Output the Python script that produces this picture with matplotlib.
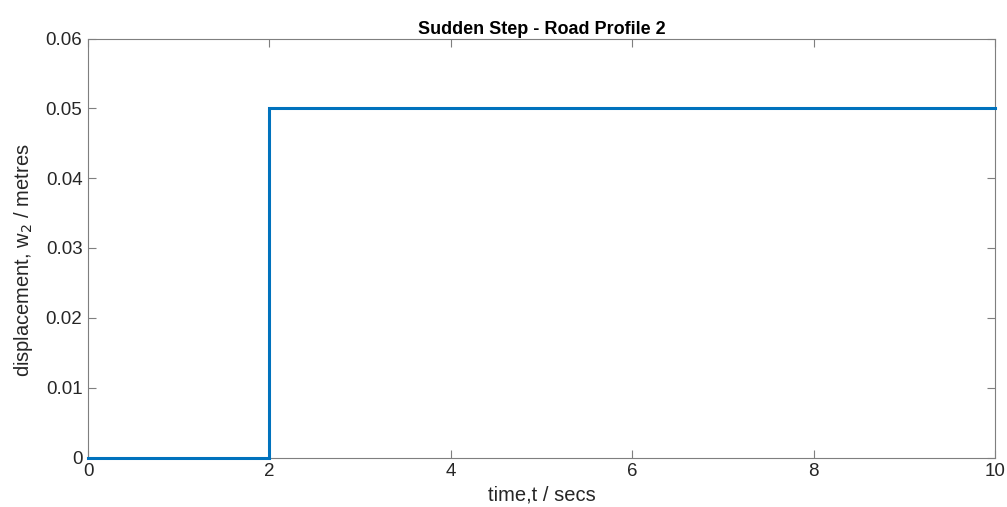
import matplotlib
matplotlib.use("Agg")
import matplotlib.pyplot as plt

t = [0, 2, 2, 10]
w2 = [0, 0, 0.05, 0.05]
xticks = [0, 2, 4, 6, 8, 10]
yticks = [0, 0.01, 0.02, 0.03, 0.04, 0.05, 0.06]
ytick_labels = ["0", "0.01", "0.02", "0.03", "0.04", "0.05", "0.06"]

plt.rcParams['font.family'] = ['Liberation Sans', 'DejaVu Sans']

fig = plt.figure(figsize=(10.07, 5.07), dpi=100)
ax = fig.add_axes([88/1007, 1 - 457.5/507, (995-88)/1007, (457.5-38.5)/507])
ax.plot(t, w2, color='#0072BD', linewidth=2.2, solid_joinstyle='miter',
        clip_on=False, zorder=5)
ax.set_xlim(0, 10)
ax.set_ylim(0, 0.06)
ax.set_xticks(xticks)
ax.set_xticklabels([str(x) for x in xticks])
ax.set_yticks(yticks)
ax.set_yticklabels(ytick_labels)
ax.tick_params(direction='in', top=True, right=True, length=6, width=0.8,
               color='#7f7f7f', labelsize=13.5, labelcolor='#262626', pad=4)
for s in ax.spines.values():
    s.set_color('#7f7f7f')
    s.set_linewidth(0.8)
ax.set_title('Sudden Step - Road Profile 2', fontsize=13, fontweight='bold', pad=3, color='black')
ax.set_xlabel('time,t / secs', fontsize=14.5, color='#262626', labelpad=4)
ax.set_ylabel('displacement, w$_2$ / metres', fontsize=14.5, color='#262626')
ax.yaxis.set_label_coords(-0.058, 0.472)
fig.savefig('out.png', dpi=100)
